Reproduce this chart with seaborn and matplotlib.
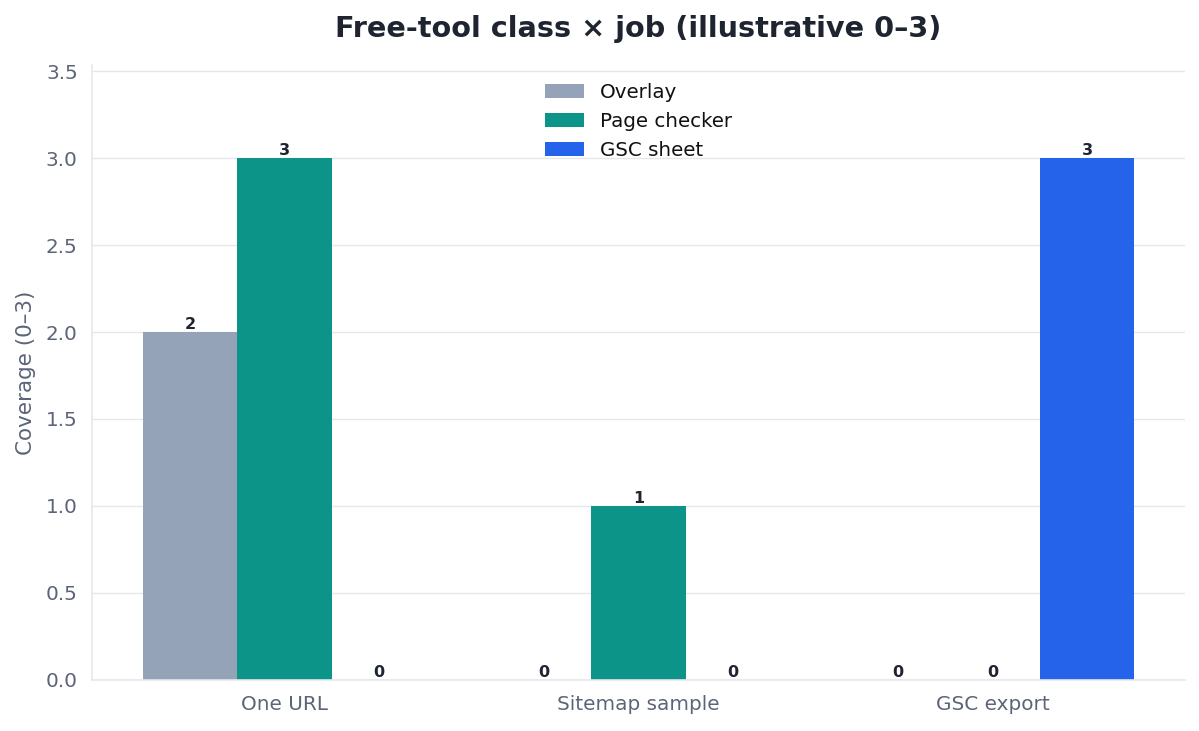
import pandas as pd
import seaborn as sns
import matplotlib.pyplot as plt

jobs = ['One URL', 'Sitemap sample', 'GSC export']
tools = ['Overlay', 'Page checker', 'GSC sheet']
overlay = [2, 0, 0]
page_checker = [3, 1, 0]
gsc_sheet = [0, 0, 3]

colors = ['#94a3b8', '#0d9488', '#2563eb']
text_dark = '#1e2430'
text_gray = '#5c6478'
line_gray = '#e5e7eb'

df = pd.DataFrame({
    'job': jobs * 3,
    'tool': [t for t in tools for _ in jobs],
    'score': overlay + page_checker + gsc_sheet,
})

sns.set_theme(style='white')
plt.rcParams['font.family'] = ['DejaVu Sans']

fig, ax = plt.subplots(figsize=(11.99, 7.31), dpi=100)
sns.barplot(data=df, x='job', y='score', hue='tool', hue_order=tools, order=jobs,
            palette=colors, width=0.8, saturation=1, linewidth=0, ax=ax)

for container in ax.containers:
    ax.bar_label(container, fmt='%d', fontsize=11.5, fontweight='bold', color=text_dark, padding=0)

ax.set_xlim(-0.542, 2.542)
ax.set_ylim(0, 3.535)
ax.set_yticks([0, 0.5, 1.0, 1.5, 2.0, 2.5, 3.0, 3.5])
ax.set_axisbelow(True)
ax.yaxis.grid(True, color=line_gray, linewidth=1)
ax.set_xlabel('')
ax.set_ylabel('Coverage (0–3)', fontsize=15.5, color=text_gray, labelpad=7)
ax.set_title('Free-tool class × job (illustrative 0–3)', fontsize=20.7, fontweight='bold',
             color=text_dark, pad=20)
ax.tick_params(axis='both', colors=text_gray, labelsize=14.4, length=5, width=1.2)
ax.tick_params(axis='x', pad=6)
ax.tick_params(axis='y', pad=5.5)

sns.despine(ax=ax)
for side in ['left', 'bottom']:
    ax.spines[side].set_color(line_gray)
    ax.spines[side].set_linewidth(1.2)

leg = ax.legend(loc='upper center', frameon=False, fontsize=14.3, handlelength=2.0,
                handleheight=0.7, labelspacing=0.5, bbox_to_anchor=(0.5, 1.0))
for txt in leg.get_texts():
    txt.set_color('#111111')

fig.subplots_adjust(left=0.077, right=0.988, top=0.911, bottom=0.07)
fig.savefig('out.png', dpi=100)
